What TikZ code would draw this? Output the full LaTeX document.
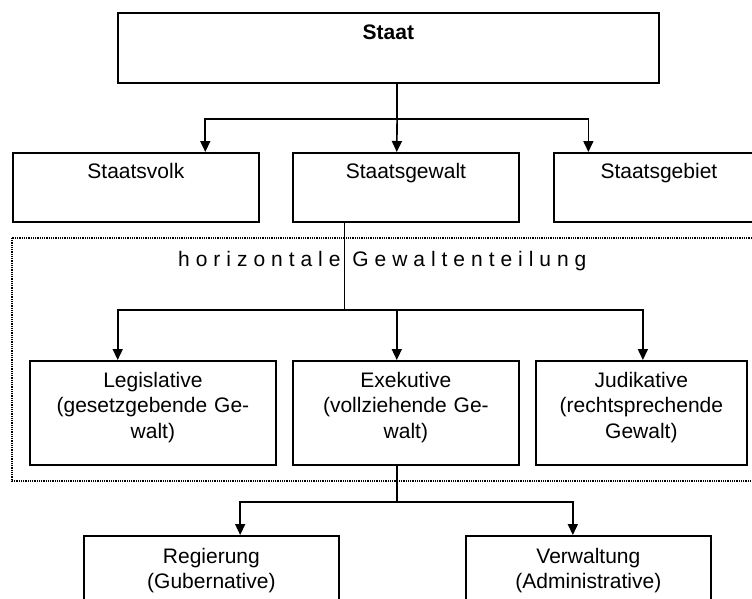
\documentclass[tikz,border=0pt]{standalone}
\usepackage{fontspec}
\setmainfont{Liberation Sans}
\newfontfamily\spacedfont[LetterSpace=28.4]{Liberation Sans}
\usetikzlibrary{arrows.meta,calc}
\tikzset{
  box/.style={draw, line width=1.8pt, inner sep=0pt, anchor=north west, fill=none},
  lbl/.style={inner sep=0pt, anchor=base, align=center, font=\fontsize{21}{25.5}\selectfont},
  conn/.style={line width=1.6pt},
  arr/.style={line width=1.6pt, -{Triangle[length=11pt,width=10pt]}},
  frame/.style={line width=1.3pt, dash pattern=on 1pt off 0.8pt}
}
\begin{document}
\begin{tikzpicture}[x=1pt,y=-1pt]
\useasboundingbox (0,0) rectangle (752,598);
\clip (0,0) rectangle (752,598);
% dotted frame
\draw[frame] (12,238) rectangle (770,481);
% boxes
\node[box, minimum width=541pt, minimum height=70pt] (staat) at (117,12) {};
\node[box, minimum width=246pt, minimum height=69pt] (volk) at (12,152) {};
\node[box, minimum width=226pt, minimum height=69pt] (gewalt) at (292,152) {};
\node[box, minimum width=210pt, minimum height=69pt] (gebiet) at (553,152) {};
\node[box, minimum width=246pt, minimum height=104pt] (leg) at (29,360) {};
\node[box, minimum width=226pt, minimum height=104pt] (exe) at (292,360) {};
\node[box, minimum width=211pt, minimum height=104pt] (jud) at (535,360) {};
\node[box, minimum width=255pt, minimum height=80pt] (reg) at (83,535) {};
\node[box, minimum width=245pt, minimum height=80pt] (verw) at (465,535) {};
% texts
\node[lbl, font=\fontsize{21}{25.5}\selectfont\bfseries] (staatt) at ($(staat.north)+(0,27)$) {Staat};
\node[lbl] (volkt) at ($(volk.north)+(0,26)$) {Staatsvolk};
\node[lbl] (gewaltt) at ($(gewalt.north)+(0,26)$) {Staatsgewalt};
\node[lbl] (gebiett) at ($(gebiet.north)+(0,26)$) {Staatsgebiet};
\node[lbl, text width=240pt] (legt) at ($(leg.north)+(0,27)$) {Legislative\\(gesetzgebende Ge-\\walt)};
\node[lbl, text width=224pt] (exet) at ($(exe.north)+(0,27)$) {Exekutive\\(vollziehende Ge-\\walt)};
\node[lbl, text width=208pt] (judt) at ($(jud.north)+(0,27)$) {Judikative\\(rechtsprechende\\Gewalt)};
\node[lbl, text width=250pt] (regt) at ($(reg.north)+(0,28)$) {Regierung\\(Gubernative)};
\node[lbl, text width=240pt] (verwt) at ($(verw.north)+(0,28)$) {Verwaltung\\(Administrative)};
\node[inner sep=0pt, anchor=base west, font=\spacedfont\fontsize{21}{24}\selectfont] (ht) at (178,266) {horizontale Gewaltenteilung};
% junctions
\coordinate (s0) at ($(staat.south west)!0.516!(staat.south east)$);
\coordinate (j1) at ($(s0)+(0,35)$);
\coordinate (g0) at ($(gewalt.south west)!0.230!(gewalt.south east)$);
\coordinate (j2) at ($(g0)+(0,87)$);
\coordinate (e0) at ($(exe.south west)!0.460!(exe.south east)$);
\coordinate (j3) at ($(e0)+(0,36)$);
% connectors level 1
\draw[conn] (s0) -- (j1);
\draw[arr] (j1) -| ($(volk.north west)!0.780!(volk.north east)$);
\draw[arr] (j1) -- ($(gewalt.north west)!0.460!(gewalt.north east)$);
\draw[arr] (j1) -| ($(gebiet.north west)!0.167!(gebiet.north east)$);
% connectors level 2
\draw[conn] (g0) -- (j2);
\draw[arr] (j2) -| ($(leg.north west)!0.358!(leg.north east)$);
\draw[arr] (j2) -| ($(exe.north west)!0.460!(exe.north east)$);
\draw[arr] (j2) -| ($(jud.north west)!0.507!(jud.north east)$);
% connectors level 3
\draw[conn] (e0) -- (j3);
\draw[arr] (j3) -| ($(reg.north west)!0.612!(reg.north east)$);
\draw[arr] (j3) -| ($(verw.north west)!0.437!(verw.north east)$);
\end{tikzpicture}
\end{document}
